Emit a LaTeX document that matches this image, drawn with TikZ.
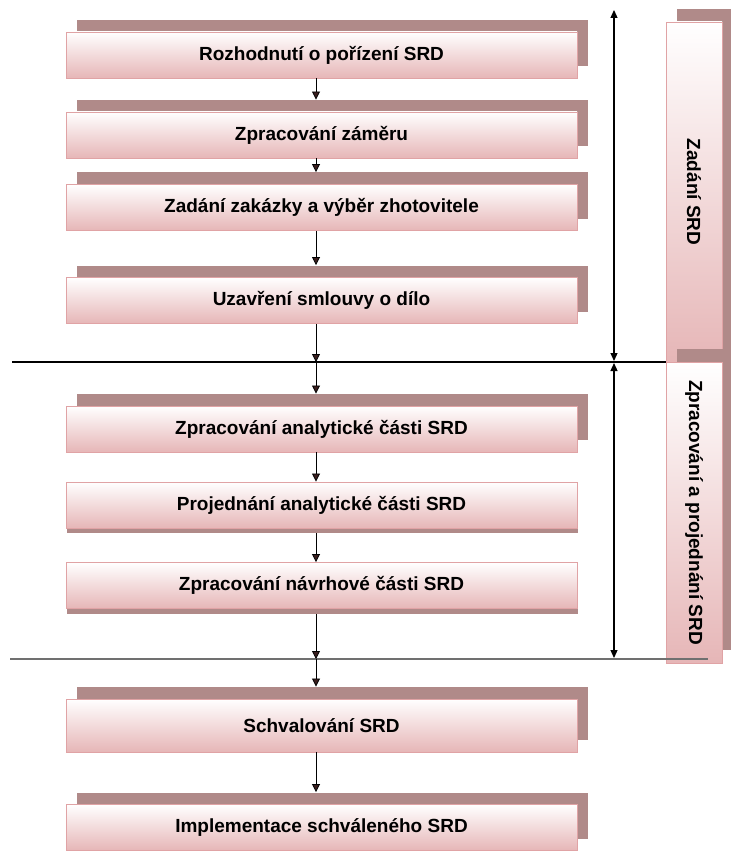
\documentclass[tikz,border=0pt]{standalone}
\usepackage{fontspec}
\setmainfont{Liberation Sans}
\usetikzlibrary{arrows.meta,shadows}
\definecolor{shcol}{HTML}{B08A89}
\definecolor{pinkb}{HTML}{E6B6B7}
\definecolor{pinkd}{HTML}{E0A3A5}
\definecolor{arrdark}{HTML}{3A1E1E}
\definecolor{linegray}{HTML}{707070}
\begin{document}
\begin{tikzpicture}[x=1pt,y=-1pt,
  box/.style={draw=pinkd, line width=0.9pt, top color=white, bottom color=pinkb,
    minimum width=511pt, minimum height=46pt, inner sep=0pt,
    font=\fontsize{19}{21}\selectfont\bfseries},
  shup/.style={drop shadow={shadow xshift=11pt, shadow yshift=12pt, fill=shcol, opacity=1}},
  shdown/.style={drop shadow={shadow xshift=1pt, shadow yshift=-5pt, fill=shcol, opacity=1}},
  sidebox/.style={draw=pinkd, line width=0.9pt, top color=white, bottom color=pinkb,
    minimum width=56pt, inner sep=0pt,
    drop shadow={shadow xshift=11pt, shadow yshift=13pt, fill=shcol, opacity=1}},
  sidetext/.style={rotate=-90, font=\fontsize{19}{21}\selectfont\bfseries, inner sep=0pt},
  flow/.style={draw=black, line width=0.8pt, -{Triangle[width=8pt,length=8pt,fill=arrdark]}},
  span/.style={draw=black, line width=1.2pt, {Triangle[width=7pt,length=8pt]}-{Triangle[width=7pt,length=8pt]}}
]
\useasboundingbox (0,0) rectangle (730,853);

% side boxes
\node[sidebox, minimum height=340pt] (r1) at (694,192) {};
\node[sidetext] (r1t) at (r1.center) {Zadání SRD};
\node[sidebox, minimum height=301pt] (r2) at (694,512.5) {};
\node[sidetext] (r2t) at (r2.center) {Zpracování a projednání SRD};

% main boxes
\node[box, shup] (b1) at (321.5,55) {Rozhodnutí o pořízení SRD};
\node[box, shup] (b2) at (321.5,135) {Zpracování záměru};
\node[box, shup] (b3) at (321.5,207.5) {Zadání zakázky a výběr zhotovitele};
\node[box, shup] (b4) at (321.5,300.5) {Uzavření smlouvy o dílo};
\node[box, shup] (b5) at (321.5,429) {Zpracování analytické části SRD};
\node[box, shdown] (b6) at (321.5,505) {Projednání analytické části SRD};
\node[box, shdown] (b7) at (321.5,585.5) {Zpracování návrhové části SRD};
\node[box, shup, minimum height=53pt] (b8) at (321.5,725.5) {Schvalování SRD};
\node[box, shup] (b9) at (321.5,827.5) {Implementace schváleného SRD};

% separator lines
\coordinate (l1a) at (12,362);
\coordinate (l1b) at (666,362);
\coordinate (l2a) at (10,659);
\coordinate (l2b) at (708,659);
\draw[black, line width=1.2pt] (l1a) -- (l1b);
\draw[linegray, line width=1.2pt] (l2a) -- (l2b);

% flow arrows
\coordinate (ax) at (316,0);
\draw[flow] (b1.south -| ax) -- ([yshift=12pt]b2.north -| ax);
\draw[flow] (b2.south -| ax) -- ([yshift=12pt]b3.north -| ax);
\draw[flow] (b3.south -| ax) -- ([yshift=12pt]b4.north -| ax);
\coordinate (m1) at (l1a -| ax);
\draw[flow] (b4.south -| ax) -- (m1);
\draw[flow] (m1) -- ([yshift=12pt]b5.north -| ax);
\draw[flow] (b5.south -| ax) -- (b6.north -| ax);
\draw[flow] ([yshift=-5pt]b6.south -| ax) -- (b7.north -| ax);
\coordinate (m2) at (l2a -| ax);
\draw[flow] ([yshift=-5pt]b7.south -| ax) -- (m2);
\draw[flow] (m2) -- ([yshift=12pt]b8.north -| ax);
\draw[flow] (b8.south -| ax) -- ([yshift=12pt]b9.north -| ax);

% span arrows
\coordinate (s1t) at (614,10);
\coordinate (s1b) at (614,361);
\coordinate (s2t) at (614,363);
\coordinate (s2b) at (614,658);
\draw[span] (s1t) -- (s1b);
\draw[span] (s2t) -- (s2b);
\end{tikzpicture}
\end{document}
